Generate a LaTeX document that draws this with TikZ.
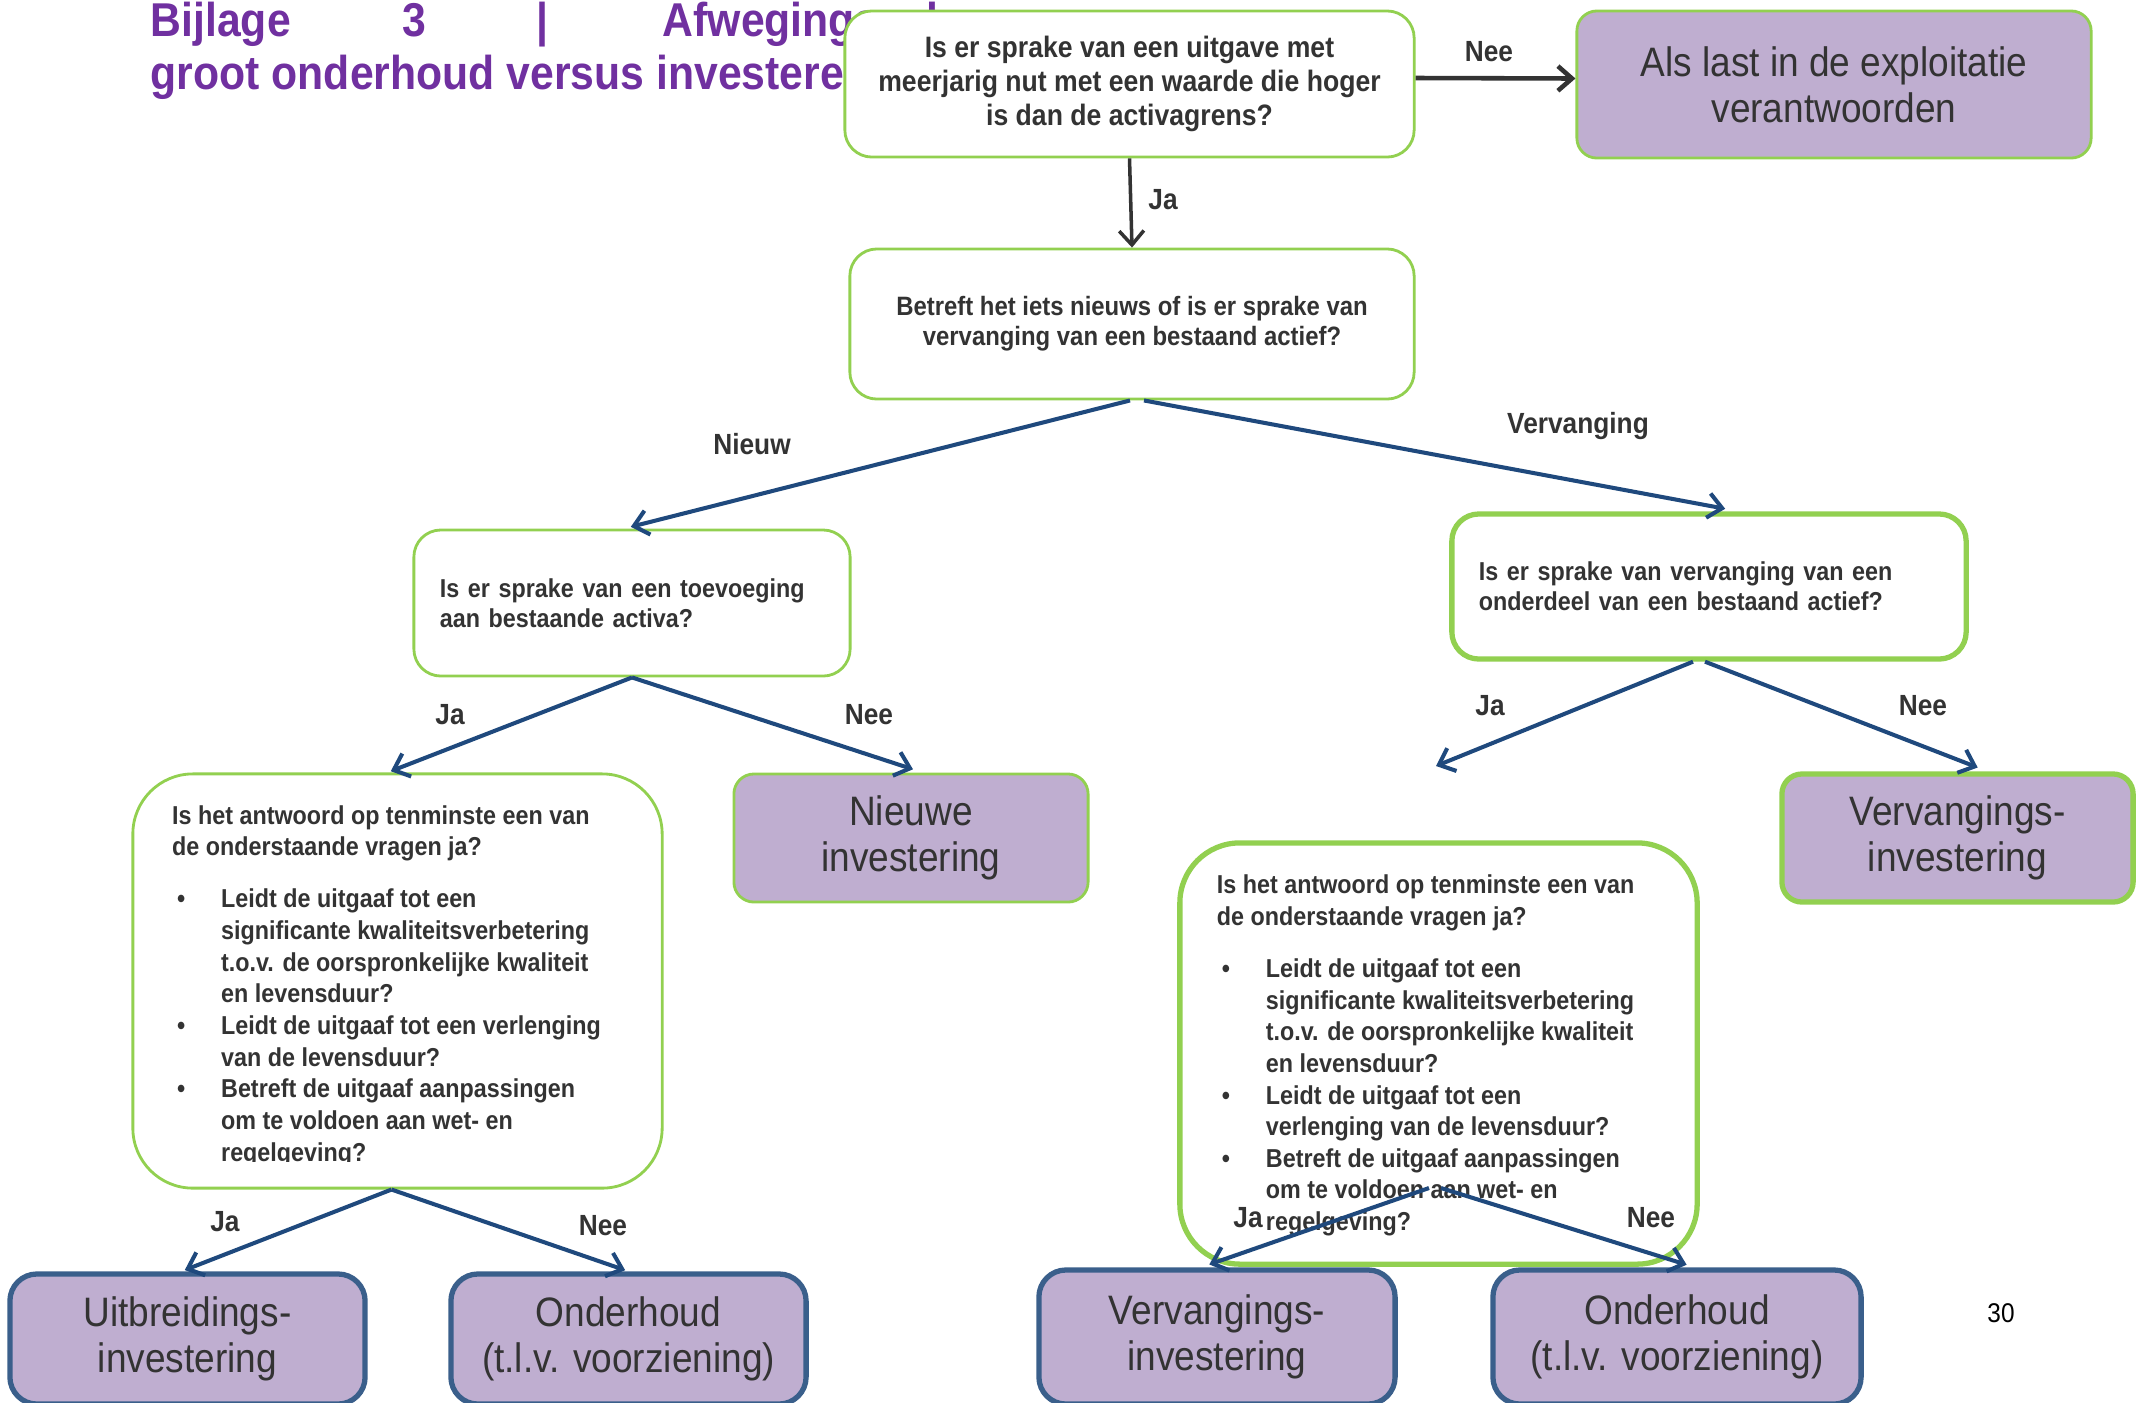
\documentclass[tikz,border=0pt]{standalone}
\usepackage{fontspec}
\setmainfont{Liberation Sans}[FakeStretch=0.9]
\usepackage{tikz}
\usetikzlibrary{arrows.meta}
\definecolor{titlepurple}{HTML}{7030A0}
\definecolor{txtgray}{HTML}{333333}
\definecolor{boxgreen}{HTML}{92D050}
\definecolor{lilac}{HTML}{BFAED0}
\definecolor{arrowblue}{HTML}{1F497D}
\definecolor{edgeblue}{HTML}{3A5F8B}
\newcommand\qbullet{\makebox[0.49cm][l]{\hspace*{0.05cm}\textbullet}}
\newcommand\qindent{\hspace*{0.49cm}}

\begin{document}
\begin{tikzpicture}[x=0.01cm,y=-0.01cm,
  title/.style={text=titlepurple,inner sep=0pt,font=\bfseries\fontsize{13.5}{15}\selectfont},
  qbox/.style={draw=boxgreen,line width=0.8pt,fill=white,rounded corners=0.27cm,text=txtgray,
    font=\bfseries\fontsize{7.37}{8.5}\selectfont},
  qlist/.style={text=txtgray,align=left,anchor=west,inner sep=0pt,font=\bfseries\fontsize{7.37}{9}\selectfont},
  answer/.style={draw=boxgreen,line width=0.8pt,fill=lilac,rounded corners=0.2cm,text=txtgray,
    align=center,font=\fontsize{11.7}{13.1}\selectfont},
  endbox/.style={answer,draw=edgeblue,line width=1.5pt,rounded corners=0.27cm},
  branch/.style={draw=arrowblue,line width=1.15pt,-{Straight Barb[length=4pt,width=7pt]}},
  toparrow/.style={draw=txtgray,-{Straight Barb[length=4pt,width=7pt]}},
  lbl/.style={text=txtgray,font=\bfseries\fontsize{8.3}{10}\selectfont}]
\useasboundingbox (0,0) rectangle (2136,1402);

\node[title,anchor=base west] (tbij) at (150,36) {Bijlage};
\node[title,anchor=base west] (tnum) at (402,36) {3};
\node[title,anchor=base] (tbar) at (542,36) {|};
\node[title,anchor=base west] (tafw) at (662,36) {Afwegingsschema};
\node[title,anchor=base west] (tsub) at (150,89) {groot onderhoud versus investeren};

\node[qbox,align=center,minimum width=5.69cm,minimum height=1.46cm,
  font=\bfseries\fontsize{8.4}{9.7}\selectfont] (q1) at (1129.5,84)
  {Is er sprake van een uitgave met\\meerjarig nut met een waarde die hoger\\is dan de activagrens?};
\node[answer,minimum width=5.14cm,minimum height=1.47cm] (a) at (1834,84.5)
  {Als last in de exploitatie\\verantwoorden};
\node[qbox,align=center,minimum width=5.64cm,minimum height=1.50cm,
  font=\bfseries\fontsize{7.55}{8.5}\selectfont] (q2) at (1132,324)
  {Betreft het iets nieuws of is er sprake van\\vervanging van een bestaand actief?};
\node[qbox,align=left,text width=3.84cm,inner xsep=0.26cm,minimum height=1.46cm] (q3) at (632,603)
  {Is er sprake van een toevoeging\\aan bestaande activa?};
\node[qbox,line width=1.5pt,align=left,text width=4.60cm,inner xsep=0.27cm,minimum height=1.45cm] (q4) at (1709,586.5)
  {Is er sprake van vervanging van een\\onderdeel van een bestaand actief?};
\node[answer,minimum width=3.54cm,minimum height=1.28cm] (n) at (911,838) {Nieuwe\\investering};
\node[answer,line width=1.5pt,minimum width=3.51cm,minimum height=1.28cm] (v1) at (1957.5,838)
  {Vervangings-\\investering};

\node[qbox,rounded corners=0.6cm,minimum width=5.29cm,minimum height=4.14cm] (q5) at (397.5,981) {};
\begin{scope}
\clip (q5.north west) rectangle ([yshift=0.28cm]q5.south east);
\node[qlist] (q5txt) at ([xshift=0.40cm,yshift=-0.05cm]q5.west)
  {Is het antwoord op tenminste een van\\de onderstaande vragen ja?\\[5.8pt]
   \qbullet Leidt de uitgaaf tot een\\\qindent significante kwaliteitsverbetering\\
   \qindent t.o.v. de oorspronkelijke kwaliteit\\\qindent en levensduur?\\
   \qbullet Leidt de uitgaaf tot een verlenging\\\qindent van de levensduur?\\
   \qbullet Betreft de uitgaaf aanpassingen\\\qindent om te voldoen aan wet- en\\
   \qindent regelgeving?};
\end{scope}

\node[qbox,line width=1.5pt,rounded corners=0.6cm,minimum width=5.17cm,minimum height=4.21cm] (q6) at (1438.5,1053.5) {};
\node[qlist] (q6txt) at ([xshift=0.39cm,yshift=-0.02cm]q6.west)
  {Is het antwoord op tenminste een van\\de onderstaande vragen ja?\\[5.8pt]
   \qbullet Leidt de uitgaaf tot een\\\qindent significante kwaliteitsverbetering\\
   \qindent t.o.v. de oorspronkelijke kwaliteit\\\qindent en levensduur?\\
   \qbullet Leidt de uitgaaf tot een\\\qindent verlenging van de levensduur?\\
   \qbullet Betreft de uitgaaf aanpassingen\\\qindent om te voldoen aan wet- en\\
   \qindent regelgeving?};

\node[endbox,minimum width=3.55cm,minimum height=1.30cm] (u) at (187.5,1339) {Uitbreidings-\\investering};
\node[endbox,minimum width=3.55cm,minimum height=1.30cm] (o1) at (628.5,1339) {Onderhoud\\(t.l.v. voorziening)};
\node[endbox,minimum width=3.56cm,minimum height=1.34cm] (v2) at (1217,1337) {Vervangings-\\investering};
\node[endbox,minimum width=3.68cm,minimum height=1.34cm] (o2) at (1677,1337) {Onderhoud\\(t.l.v. voorziening)};

\node[font=\fontsize{7.7}{9}\selectfont] (pnum) at (2001,1313) {30};

\coordinate (q4yes) at (1436,766);
\coordinate (q6fork) at (1435,1188);

\draw[toparrow,line width=1.3pt] ([yshift=0.06cm]q1.east) -- ([yshift=0.06cm]a.west);
\draw[toparrow,line width=1pt] (q1.south) -- (q2.north);
\draw[branch,shorten >=2pt] ([xshift=-0.02cm]q2.south) -- ([xshift=-0.08cm]q3.north);
\draw[branch,shorten >=4pt] ([xshift=0.12cm]q2.south) -- ([xshift=0.30cm]q4.north);
\draw[branch,shorten >=1pt] (q3.south) -- ([xshift=-0.10cm]q5.north);
\draw[branch,shorten >=3pt] (q3.south) -- ([xshift=0.12cm]n.north);
\draw[branch] ([xshift=-0.16cm]q4.south) -- (q4yes);
\draw[branch,shorten >=3pt] ([xshift=-0.04cm]q4.south) -- ([xshift=0.30cm]v1.north);
\draw[branch,shorten >=1pt] ([xshift=-0.06cm]q5.south) -- ([xshift=-0.06cm]u.north);
\draw[branch,shorten >=1pt] ([xshift=-0.06cm]q5.south) -- (o1.north);
\draw[branch,shorten >=2.5pt] ([xshift=-0.06cm]q6fork) -- ([xshift=-0.16cm]v2.north);
\draw[branch,shorten >=2.5pt] ([xshift=0.06cm]q6fork) -- ([xshift=0.18cm]o2.north);

\node[lbl] (lnee1) at (1489,52) {Nee};
\node[lbl] (lja1) at (1163,200) {Ja};
\node[lbl] (lnieuw) at (752,444) {Nieuw};
\node[lbl] (lverv) at (1578,426) {Vervanging};
\node[lbl] (lja2) at (450,715) {Ja};
\node[lbl] (lnee2) at (869,715) {Nee};
\node[lbl] (lja3) at (1490,706) {Ja};
\node[lbl] (lnee3) at (1923,706) {Nee};
\node[lbl] (lja4) at (225,1222) {Ja};
\node[lbl] (lnee4) at (603,1226) {Nee};
\node[lbl] (lja5) at (1248,1218) {Ja};
\node[lbl] (lnee5) at (1651,1218) {Nee};
\end{tikzpicture}
\end{document}
